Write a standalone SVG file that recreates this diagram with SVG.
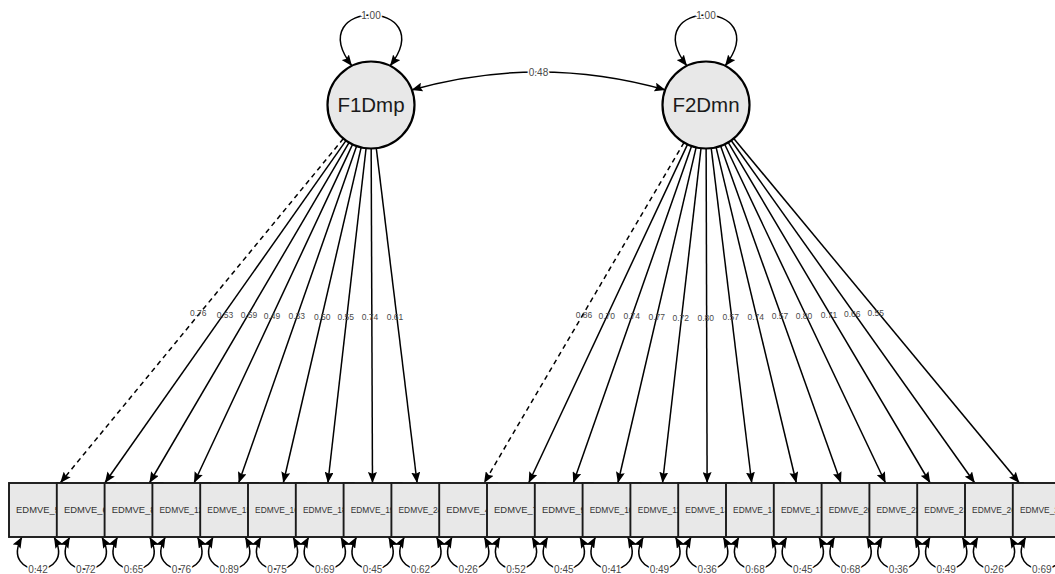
<svg xmlns="http://www.w3.org/2000/svg" width="1055" height="574" viewBox="0 0 1055 574">
  <defs>
    <marker id="ah" viewBox="0 0 11 9" refX="11" refY="4.5" markerWidth="11" markerHeight="9" markerUnits="userSpaceOnUse" orient="auto-start-reverse">
      <path d="M0,0 L11,4.5 L0,9 L1.8,4.5 z" fill="#000"/>
    </marker>
    <style>
      .lat { fill: #e8e8e8; stroke: #000; stroke-width: 2.2; }
      .man { fill: #e8e8e8; stroke: #1a1a1a; stroke-width: 1.9; }
      .edge { fill: none; stroke: #000; stroke-width: 1.5; marker-end: url(#ah); }
      .dash { stroke-dasharray: 5 4; }
      .two { marker-start: url(#ah); }
      .num { font-family: "Liberation Sans", Arial, sans-serif; fill: #4a4a4a; text-anchor: middle; }
      .load { font-size: 8.5px; }
      .var { font-size: 10px; paint-order: stroke; stroke: #fff; stroke-width: 3; }
      .latTxt { font-family: "Liberation Sans", Arial, sans-serif; font-size: 20.5px; fill: #1a1a1a; text-anchor: middle; }
      .manTxt { font-family: "Liberation Sans", Arial, sans-serif; fill: #333; text-anchor: middle; }
      .d1 { font-size: 9.4px; }
      .d2 { font-size: 8.4px; }
    </style>
  </defs>

  <rect width="1055" height="574" fill="#fff"/>

  <!-- connectors: variances, covariance, loadings, residuals -->
  <g id="connectors">
    <!-- latent variances -->
    <path class="edge two" d="M352,66 C300,-2 442,-2 390,66"/>
    <path class="edge two" d="M687,66 C635,-2 777,-2 725,66"/>
    <!-- factor covariance -->
    <path class="edge two" d="M411.5,90 Q538.5,54 665.5,90"/>

    <!-- F1Dmp loadings -->
    <path class="edge dash" d="M343.37,138.6 L60.2,483"/>
    <path class="edge" d="M345.95,140.57 L104.81,483"/>
    <path class="edge" d="M349,142.53 L149.43,483"/>
    <path class="edge" d="M352.56,144.39 L194.04,483"/>
    <path class="edge" d="M356.63,146.06 L238.65,483"/>
    <path class="edge" d="M361.17,147.37 L283.27,483"/>
    <path class="edge" d="M366.07,148.22 L327.88,483"/>
    <path class="edge" d="M371.17,148.5 L372.49,483"/>
    <path class="edge" d="M376.27,148.18 L417.11,483"/>

    <!-- F2Dmn loadings -->
    <path class="edge dash" d="M683.97,142.51 L484.05,483"/>
    <path class="edge" d="M687.52,144.38 L528.67,483"/>
    <path class="edge" d="M691.59,146.04 L573.28,483"/>
    <path class="edge" d="M696.13,147.36 L617.89,483"/>
    <path class="edge" d="M701.03,148.21 L662.51,483"/>
    <path class="edge" d="M706.13,148.5 L707.12,483"/>
    <path class="edge" d="M711.22,148.19 L751.73,483"/>
    <path class="edge" d="M716.11,147.31 L796.35,483"/>
    <path class="edge" d="M720.63,145.97 L840.96,483"/>
    <path class="edge" d="M724.67,144.29 L885.57,483"/>
    <path class="edge" d="M728.19,142.41 L930.19,483"/>
    <path class="edge" d="M731.21,140.45 L974.8,483"/>
    <path class="edge" d="M733.76,138.49 L1019.41,483"/>

    <!-- residual variances -->
    <path class="edge two" d="M22,537 C-2,580 78,580 54,537"/>
    <path class="edge two" d="M69.8,537 C45.8,580 125.8,580 101.8,537"/>
    <path class="edge two" d="M117.6,537 C93.6,580 173.6,580 149.6,537"/>
    <path class="edge two" d="M165.4,537 C141.4,580 221.4,580 197.4,537"/>
    <path class="edge two" d="M213.2,537 C189.2,580 269.2,580 245.2,537"/>
    <path class="edge two" d="M261,537 C237,580 317,580 293,537"/>
    <path class="edge two" d="M308.8,537 C284.8,580 364.8,580 340.8,537"/>
    <path class="edge two" d="M356.6,537 C332.6,580 412.6,580 388.6,537"/>
    <path class="edge two" d="M404.4,537 C380.4,580 460.4,580 436.4,537"/>
    <path class="edge two" d="M452.2,537 C428.2,580 508.2,580 484.2,537"/>
    <path class="edge two" d="M500,537 C476,580 556,580 532,537"/>
    <path class="edge two" d="M547.8,537 C523.8,580 603.8,580 579.8,537"/>
    <path class="edge two" d="M595.6,537 C571.6,580 651.6,580 627.6,537"/>
    <path class="edge two" d="M643.4,537 C619.4,580 699.4,580 675.4,537"/>
    <path class="edge two" d="M691.2,537 C667.2,580 747.2,580 723.2,537"/>
    <path class="edge two" d="M739,537 C715,580 795,580 771,537"/>
    <path class="edge two" d="M786.8,537 C762.8,580 842.8,580 818.8,537"/>
    <path class="edge two" d="M834.6,537 C810.6,580 890.6,580 866.6,537"/>
    <path class="edge two" d="M882.4,537 C858.4,580 938.4,580 914.4,537"/>
    <path class="edge two" d="M930.2,537 C906.2,580 986.2,580 962.2,537"/>
    <path class="edge two" d="M978,537 C954,580 1034,580 1010,537"/>
    <path class="edge two" d="M1025.8,537 C1001.8,580 1081.8,580 1057.8,537"/>

    <!-- edge labels -->
    <text class="num var" x="371" y="18.6">1.00</text>
    <text class="num var" x="706" y="18.6">1.00</text>
    <text class="num var" x="538.5" y="75.6">0.48</text>

    <text class="num load" x="198.3" y="316">0.76</text>
    <text class="num load" x="225" y="318">0.53</text>
    <text class="num load" x="249" y="318">0.59</text>
    <text class="num load" x="272" y="318.7">0.49</text>
    <text class="num load" x="296.7" y="319">0.33</text>
    <text class="num load" x="322.3" y="319.7">0.50</text>
    <text class="num load" x="345.7" y="319.7">0.55</text>
    <text class="num load" x="370" y="320">0.74</text>
    <text class="num load" x="395" y="320">0.61</text>

    <text class="num load" x="584" y="318">0.86</text>
    <text class="num load" x="606.7" y="319">0.70</text>
    <text class="num load" x="631.7" y="319">0.74</text>
    <text class="num load" x="656.7" y="319.7">0.77</text>
    <text class="num load" x="680.7" y="321">0.72</text>
    <text class="num load" x="705.7" y="320.7">0.80</text>
    <text class="num load" x="730.7" y="320">0.57</text>
    <text class="num load" x="755.7" y="319.7">0.74</text>
    <text class="num load" x="780" y="319">0.57</text>
    <text class="num load" x="804" y="318.7">0.80</text>
    <text class="num load" x="829" y="318">0.71</text>
    <text class="num load" x="852.3" y="317">0.66</text>
    <text class="num load" x="875.7" y="316">0.55</text>

    <text class="num var" x="38" y="572.6">0.42</text>
    <text class="num var" x="85.8" y="572.6">0.72</text>
    <text class="num var" x="133.6" y="572.6">0.65</text>
    <text class="num var" x="181.4" y="572.6">0.76</text>
    <text class="num var" x="229.2" y="572.6">0.89</text>
    <text class="num var" x="277" y="572.6">0.75</text>
    <text class="num var" x="324.8" y="572.6">0.69</text>
    <text class="num var" x="372.6" y="572.6">0.45</text>
    <text class="num var" x="420.4" y="572.6">0.62</text>
    <text class="num var" x="468.2" y="572.6">0.26</text>
    <text class="num var" x="516" y="572.6">0.52</text>
    <text class="num var" x="563.8" y="572.6">0.45</text>
    <text class="num var" x="611.6" y="572.6">0.41</text>
    <text class="num var" x="659.4" y="572.6">0.49</text>
    <text class="num var" x="707.2" y="572.6">0.36</text>
    <text class="num var" x="755" y="572.6">0.68</text>
    <text class="num var" x="802.8" y="572.6">0.45</text>
    <text class="num var" x="850.6" y="572.6">0.68</text>
    <text class="num var" x="898.4" y="572.6">0.36</text>
    <text class="num var" x="946.2" y="572.6">0.49</text>
    <text class="num var" x="994" y="572.6">0.26</text>
    <text class="num var" x="1041.8" y="572.6">0.69</text>
  </g>

  <!-- latent factors -->
  <g id="F1Dmp">
    <circle class="lat" cx="371" cy="105" r="43.5"/>
    <text class="latTxt" x="371" y="112.3">F1Dmp</text>
  </g>
  <g id="F2Dmn">
    <circle class="lat" cx="706" cy="105" r="43.5"/>
    <text class="latTxt" x="706" y="112.3">F2Dmn</text>
  </g>

  <!-- observed items (each box partly overlaps the previous one) -->
  <g id="EDMVE_5"><rect class="man" x="9" y="483" width="58" height="54"/><text class="manTxt d1" x="38" y="513.3">EDMVE_5</text></g>
  <g id="EDMVE_6"><rect class="man" x="56.8" y="483" width="58" height="54"/><text class="manTxt d1" x="85.8" y="513.3">EDMVE_6</text></g>
  <g id="EDMVE_8"><rect class="man" x="104.6" y="483" width="58" height="54"/><text class="manTxt d1" x="133.6" y="513.3">EDMVE_8</text></g>
  <g id="EDMVE_12"><rect class="man" x="152.4" y="483" width="58" height="54"/><text class="manTxt d2" x="181.4" y="513">EDMVE_12</text></g>
  <g id="EDMVE_15"><rect class="man" x="200.2" y="483" width="58" height="54"/><text class="manTxt d2" x="229.2" y="513">EDMVE_15</text></g>
  <g id="EDMVE_16"><rect class="man" x="248" y="483" width="58" height="54"/><text class="manTxt d2" x="277" y="513">EDMVE_16</text></g>
  <g id="EDMVE_18"><rect class="man" x="295.8" y="483" width="58" height="54"/><text class="manTxt d2" x="324.8" y="513">EDMVE_18</text></g>
  <g id="EDMVE_19"><rect class="man" x="343.6" y="483" width="58" height="54"/><text class="manTxt d2" x="372.6" y="513">EDMVE_19</text></g>
  <g id="EDMVE_24"><rect class="man" x="391.4" y="483" width="58" height="54"/><text class="manTxt d2" x="420.4" y="513">EDMVE_24</text></g>
  <g id="EDMVE_4"><rect class="man" x="439.2" y="483" width="58" height="54"/><text class="manTxt d1" x="468.2" y="513.3">EDMVE_4</text></g>
  <g id="EDMVE_7"><rect class="man" x="487" y="483" width="58" height="54"/><text class="manTxt d1" x="516" y="513.3">EDMVE_7</text></g>
  <g id="EDMVE_9"><rect class="man" x="534.8" y="483" width="58" height="54"/><text class="manTxt d1" x="563.8" y="513.3">EDMVE_9</text></g>
  <g id="EDMVE_10"><rect class="man" x="582.6" y="483" width="58" height="54"/><text class="manTxt d2" x="611.6" y="513">EDMVE_10</text></g>
  <g id="EDMVE_11"><rect class="man" x="630.4" y="483" width="58" height="54"/><text class="manTxt d2" x="659.4" y="513">EDMVE_11</text></g>
  <g id="EDMVE_13"><rect class="man" x="678.2" y="483" width="58" height="54"/><text class="manTxt d2" x="707.2" y="513">EDMVE_13</text></g>
  <g id="EDMVE_14"><rect class="man" x="726" y="483" width="58" height="54"/><text class="manTxt d2" x="755" y="513">EDMVE_14</text></g>
  <g id="EDMVE_17"><rect class="man" x="773.8" y="483" width="58" height="54"/><text class="manTxt d2" x="802.8" y="513">EDMVE_17</text></g>
  <g id="EDMVE_20"><rect class="man" x="821.6" y="483" width="58" height="54"/><text class="manTxt d2" x="850.6" y="513">EDMVE_20</text></g>
  <g id="EDMVE_22"><rect class="man" x="869.4" y="483" width="58" height="54"/><text class="manTxt d2" x="898.4" y="513">EDMVE_22</text></g>
  <g id="EDMVE_23"><rect class="man" x="917.2" y="483" width="58" height="54"/><text class="manTxt d2" x="946.2" y="513">EDMVE_23</text></g>
  <g id="EDMVE_26"><rect class="man" x="965" y="483" width="58" height="54"/><text class="manTxt d2" x="994" y="513">EDMVE_26</text></g>
  <g id="EDMVE_27"><rect class="man" x="1012.8" y="483" width="58" height="54"/><text class="manTxt d2" x="1041.8" y="513">EDMVE_27</text></g>
</svg>
